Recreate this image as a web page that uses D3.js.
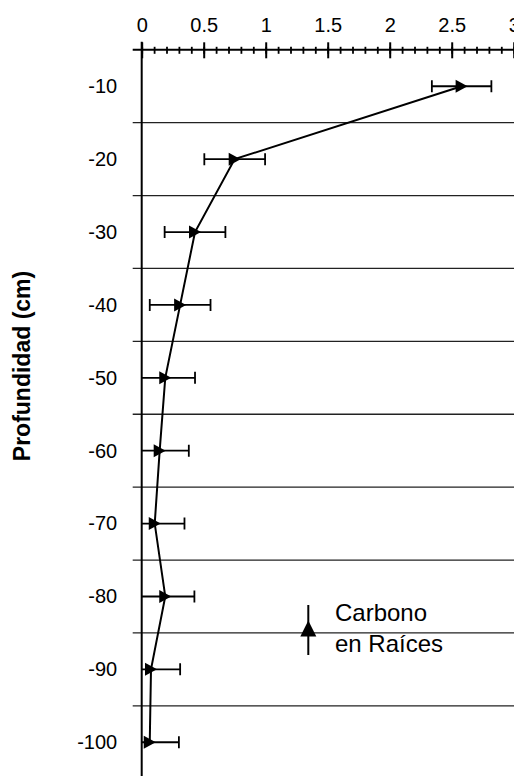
<!DOCTYPE html>
<html>
<head>
<meta charset="utf-8">
<script src="https://cdn.jsdelivr.net/npm/d3@7"></script>
<style>
  html, body { margin: 0; padding: 0; background: #fff; }
  svg { display: block; font-family: "Liberation Sans", Arial, sans-serif; }
</style>
</head>
<body>
<svg id="chart" width="514" height="776"></svg>
<script>
// Root carbon by soil depth, with error bars
const depths = [-10, -20, -30, -40, -50, -60, -70, -80, -90, -100];
const carbon = [2.58, 0.75, 0.43, 0.31, 0.19, 0.145, 0.105, 0.19, 0.075, 0.065];
const errors = [0.24, 0.245, 0.245, 0.245, 0.24, 0.235, 0.24, 0.235, 0.235, 0.235];

const xTickValues = [0, 0.5, 1, 1.5, 2, 2.5, 3];
const xTickLabels = ["0", "0.5", "1", "1.5", "2", "2.5", "3"];
const yTickValues = [-10, -20, -30, -40, -50, -60, -70, -80, -90, -100];
const yTickLabels = ["-10", "-20", "-30", "-40", "-50", "-60", "-70", "-80", "-90", "-100"];
const yGridValues = [-15, -25, -35, -45, -55, -65, -75, -85, -95];

const legendLines = ["Carbono", "en Raíces"];
const yTitle = "Profundidad (cm)";

const W = 514, H = 776;
const svg = d3.select("#chart");

const x = d3.scaleLinear().domain([0, 3]).range([141.7, 513.7]);
const y = d3.scaleLinear().domain([-5, -105]).range([49.8, 778.7]);

const x0 = x(0), yTop = y(-5);

// horizontal grid lines (also act as y-axis tick marks on the left)
svg.append("g")
  .selectAll("line")
  .data(yGridValues)
  .join("line")
  .attr("x1", x0 - 9).attr("x2", W)
  .attr("y1", d => y(d)).attr("y2", d => y(d))
  .attr("stroke", "#222").attr("stroke-width", 1.3);

// top x axis: minor ticks
const xMinor = svg.append("g").attr("transform", `translate(0,${yTop})`)
  .call(d3.axisTop(x).ticks(30).tickSizeInner(3).tickSizeOuter(0).tickFormat(""));
xMinor.select(".domain").remove();
xMinor.selectAll(".tick line").attr("y1", -3).attr("y2", 4)
  .attr("stroke", "#000").attr("stroke-width", 1.8);

// top x axis: major ticks and labels
const xAxis = svg.append("g").attr("transform", `translate(0,${yTop})`)
  .call(d3.axisTop(x).tickValues(xTickValues).tickSizeOuter(0)
    .tickFormat((d, i) => xTickLabels[i]));
xAxis.select(".domain").remove();
xAxis.selectAll(".tick line").attr("y1", -7.5).attr("y2", 8.5)
  .attr("stroke", "#000").attr("stroke-width", 2);
xAxis.selectAll(".tick text")
  .attr("y", -18).attr("dy", 0)
  .attr("font-size", 20).attr("fill", "#000")
  .attr("font-family", "'Liberation Sans', Arial, sans-serif");

// axis line across the top
svg.append("line")
  .attr("x1", x0 - 9).attr("x2", W)
  .attr("y1", yTop).attr("y2", yTop)
  .attr("stroke", "#000").attr("stroke-width", 2);

// y axis with depth labels
const yAxis = svg.append("g").attr("transform", `translate(${x0},0)`)
  .call(d3.axisLeft(y).tickValues(yTickValues).tickSize(0).tickPadding(24.5)
    .tickFormat((d, i) => yTickLabels[i]));
yAxis.select(".domain").remove();
yAxis.selectAll(".tick text")
  .attr("font-size", 20).attr("fill", "#000")
  .attr("font-family", "'Liberation Sans', Arial, sans-serif");

svg.append("line")
  .attr("x1", x0).attr("x2", x0)
  .attr("y1", yTop - 8).attr("y2", H)
  .attr("stroke", "#000").attr("stroke-width", 2);

// y axis title
svg.append("text")
  .attr("transform", `translate(30,366) rotate(-90)`)
  .attr("text-anchor", "middle")
  .attr("font-size", 23).attr("font-weight", "bold")
  .attr("fill", "#000")
  .text(yTitle);

// data clipped to the positive side of the axis
svg.append("defs").append("clipPath").attr("id", "plot-clip")
  .append("rect").attr("x", x0).attr("y", 0).attr("width", W - x0).attr("height", H);

const points = depths.map((d, i) => ({ depth: d, value: carbon[i], err: errors[i] }));
const plot = svg.append("g").attr("clip-path", "url(#plot-clip)");

// error bars
const eb = plot.append("g").attr("stroke", "#000").attr("stroke-width", 1.8);
eb.selectAll("line.bar").data(points).join("line").attr("class", "bar")
  .attr("x1", d => x(d.value - d.err)).attr("x2", d => x(d.value + d.err))
  .attr("y1", d => y(d.depth)).attr("y2", d => y(d.depth));
eb.selectAll("line.capL").data(points).join("line").attr("class", "capL")
  .attr("x1", d => x(d.value - d.err)).attr("x2", d => x(d.value - d.err))
  .attr("y1", d => y(d.depth) - 6).attr("y2", d => y(d.depth) + 6);
eb.selectAll("line.capR").data(points).join("line").attr("class", "capR")
  .attr("x1", d => x(d.value + d.err)).attr("x2", d => x(d.value + d.err))
  .attr("y1", d => y(d.depth) - 6).attr("y2", d => y(d.depth) + 6);

// connecting line
plot.append("path")
  .datum(points)
  .attr("fill", "none").attr("stroke", "#000").attr("stroke-width", 2)
  .attr("d", d3.line().x(d => x(d.value)).y(d => y(d.depth)));

// right-pointing triangle markers
plot.selectAll("path.marker").data(points).join("path").attr("class", "marker")
  .attr("transform", d => `translate(${x(d.value)},${y(d.depth)})`)
  .attr("d", "M-6,-6.5L6,0L-6,6.5Z")
  .attr("fill", "#000");

// legend
const lg = svg.append("g");
lg.append("line")
  .attr("x1", 308.3).attr("x2", 308.3).attr("y1", 605).attr("y2", 655)
  .attr("stroke", "#000").attr("stroke-width", 2);
lg.append("path")
  .attr("transform", "translate(308.3,628.5)")
  .attr("d", "M0,-8L8,8L-8,8Z")
  .attr("fill", "#000");
lg.selectAll("text").data(legendLines).join("text")
  .attr("x", 335).attr("y", (d, i) => 621 + i * 30.5)
  .attr("font-size", 24).attr("fill", "#000")
  .text(d => d);
</script>
</body>
</html>
